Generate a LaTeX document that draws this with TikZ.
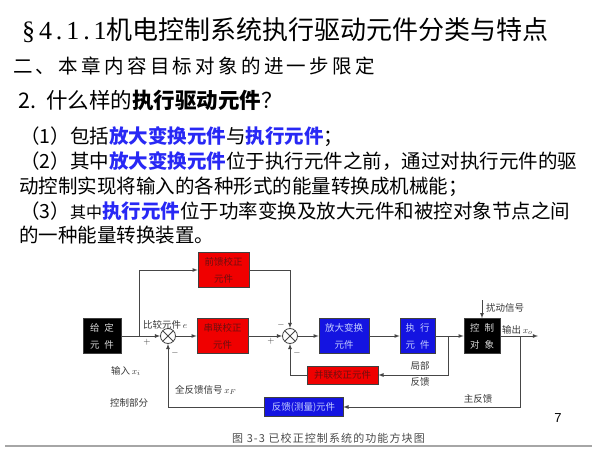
\documentclass[tikz,border=0pt]{standalone}
\usepackage{fontspec}
\setmainfont{Liberation Serif}
\newfontfamily\cjk{Noto Sans CJK SC}
\newfontfamily\cjkwide[LetterSpace=17]{Noto Sans CJK SC}
\newfontfamily\cjkcap[LetterSpace=10]{Noto Sans CJK SC}
\newfontfamily\serifwide[LetterSpace=15]{Liberation Serif}
\newfontfamily\numfont{Liberation Sans}
\usepackage{tikz}
\usetikzlibrary{positioning}
\usetikzlibrary{%
  calc,%
  arrows%
}
\definecolor{hlblue}{RGB}{40,40,245}
\definecolor{boxred}{RGB}{240,0,0}
\definecolor{boxblue}{RGB}{20,20,225}
\definecolor{linegray}{RGB}{70,70,70}
\definecolor{redtext}{RGB}{110,15,15}
\definecolor{bluetext}{RGB}{195,205,255}
\definecolor{labelgray}{RGB}{55,55,55}
\definecolor{capgray}{RGB}{75,75,75}
\newcommand{\hlt}[1]{{\bfseries\color{hlblue}#1}}
\newcommand{\bodyfont}{\cjk\fontsize{19.5}{24}\selectfont}

\begin{document}
\begin{tikzpicture}[x=1pt, y=-1pt,
  txt/.style={anchor=base west, inner sep=0pt},
  block/.style={draw=black!75, line width=0.6pt, inner sep=0pt, minimum height=35pt,
    align=center, font=\cjk\fontsize{9.5}{17}\selectfont},
  redblock/.style={block, fill=boxred, text=redtext},
  blueblock/.style={block, fill=boxblue, text=bluetext},
  blackblock/.style={block, fill=black, text=white!85!black},
  sumjunc/.style={circle, draw=linegray, line width=0.8pt, minimum size=15pt, inner sep=0pt,
    path picture={\draw[linegray, line width=0.8pt]
      (path picture bounding box.north west) -- (path picture bounding box.south east)
      (path picture bounding box.north east) -- (path picture bounding box.south west);}},
  conn/.style={draw=linegray, line width=0.8pt, -latex},
  lbl/.style={inner sep=0pt, text=labelgray, font=\cjk\fontsize{9.5}{11}\selectfont},
  sign/.style={inner sep=0pt, text=labelgray, font=\fontsize{9}{9}\selectfont}
]
\useasboundingbox[fill=white] (0,0) rectangle (600,452);

% text of the slide
\node[txt] (t0) at (22,40) {{\serifwide\fontsize{26}{30}\selectfont §4.1.1}{\cjk\fontsize{26}{30}\selectfont 机电控制系统执行驱动元件分类与特点}};
\node[txt] (t1) at (13,74) {\cjkwide\fontsize{19.5}{24}\selectfont 二、本章内容目标对象的进一步限定};
\node[txt] (t2) at (18,109) {\cjk\fontsize{21.5}{26}\selectfont 2.\hspace{10pt}什么样的{\bfseries 执行驱动元件}？};
\node[txt] (t3) at (20,143) {\bodyfont （1）包括\hlt{放大变换元件}与\hlt{执行元件}；};
\node[txt] (t4) at (20,168) {\bodyfont （2）其中\hlt{放大变换元件}位于执行元件之前，通过对执行元件的驱};
\node[txt] (t5) at (19,193) {\bodyfont 动控制实现将输入的各种形式的能量转换成机械能；};
\node[txt] (t6) at (20,218) {\bodyfont （3）{\fontsize{16}{20}\selectfont 其中}\hlt{执行元件}位于功率变换及放大元件和被控对象节点之间};
\node[txt] (t7) at (19,242) {\bodyfont 的一种能量转换装置。};

% blocks
\node[blackblock, minimum width=38pt] (given) at (102,336) {给\hspace{5pt}定\\元\hspace{5pt}件};
\node[redblock, minimum width=51pt] (ffwd) at (223.5,270) {前馈校正\\元件};
\node[redblock, minimum width=51pt] (series) at (222.5,336) {串联校正\\元件};
\node[blueblock, minimum width=50pt] (amp) at (344,336) {放大变换\\元件};
\node[blueblock, minimum width=35pt] (exec) at (417.5,336) {执\hspace{5pt}行\\元\hspace{5pt}件};
\node[blackblock, minimum width=36pt] (plant) at (482,336) {控\hspace{5pt}制\\对\hspace{5pt}象};
\node[redblock, minimum width=71pt, minimum height=18pt] (para) at (342.5,375) {并联校正元件};
\node[blueblock, minimum width=79pt, minimum height=19pt] (fbk) at (303.5,407) {反馈(测量)元件};
\node[sumjunc] (sum1) at (168,336) {};
\node[sumjunc] (sum2) at (290,336) {};

\coordinate (branch) at (139,336);
\coordinate (dist) at (482,300);
\coordinate (out) at (538,336);
\coordinate (tapout) at (520,336);
\coordinate (taplocal) at (448,336);

\draw
	(given) edge[conn] (sum1)
	(branch) edge[conn, to path={|- (\tikztotarget)}] (ffwd)
	(sum1) edge[conn] (series)
	(series) edge[conn] (sum2)
	(ffwd) edge[conn, to path={-| (\tikztotarget)}] (sum2)
	(sum2) edge[conn] (amp)
	(amp) edge[conn] (exec)
	(exec) edge[conn] (plant)
	(dist) edge[conn] (plant)
	(plant) edge[conn] (out)
	(tapout) edge[conn, to path={|- (\tikztotarget)}] (fbk)
	(taplocal) edge[conn, to path={|- (\tikztotarget)}] (para)
	(para) edge[conn, to path={-| (\tikztotarget)}] (sum2)
	(fbk) edge[conn, to path={-| (\tikztotarget)}] (sum1)
;

% labels
\node[lbl, anchor=west] (cmp) at (143,325) {比较元件\,$e$};
\node[sign] (p1) at (147,342) {$+$};
\node[sign] (m1) at (175,353) {$-$};
\node[sign] (m2) at (281,325) {$-$};
\node[sign] (p2) at (271,341) {$+$};
\node[sign] (m3) at (297,353) {$-$};
\node[lbl, anchor=west] (inp) at (111,371) {输入\,$x_i$};
\node[lbl, anchor=west] (fullfb) at (175,390) {全反馈信号\,$x_F$};
\node[lbl] (ctrl) at (129,403) {控制部分};
\node[lbl] (loc1) at (420,366) {局部};
\node[lbl] (loc2) at (420,382) {反馈};
\node[lbl] (mainfb) at (478,399) {主反馈};
\node[lbl, anchor=west] (distl) at (486,308) {扰动信号};
\node[lbl, anchor=west] (outl) at (502,330) {输出\,$x_o$};

\node[inner sep=0pt, font=\numfont\fontsize{13}{13}\selectfont] (pg) at (558,418) {7};
\node[txt, text=capgray, font=\cjkcap\fontsize{11}{13}\selectfont] (cap) at (232,442) {图 3-3 已校正控制系统的功能方块图};
\draw[black!35, line width=1.2pt] (5,446) -- (592,446);
\end{tikzpicture}
\end{document}
